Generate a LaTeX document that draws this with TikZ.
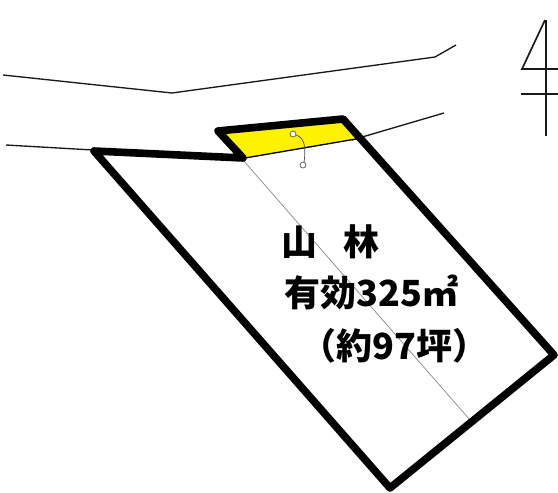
\documentclass[tikz,border=0pt]{standalone}
\usepackage{fontspec}
\newfontfamily\cjk{Noto Sans CJK JP}
\tikzset{
  lot/.style={line width=5.7pt, line join=round, line cap=round},
  road/.style={line width=1pt, black!90},
  axis/.style={line width=1.25pt, black!90},
  guide/.style={line width=0.55pt, black!45},
  handle/.style={circle, draw=black!60, fill=white, line width=0.6pt, inner sep=0pt, minimum size=4.5pt},
  label/.style={inner sep=0pt, anchor=base west, font=\cjk\bfseries\fontsize{27}{27}\selectfont}
}
\begin{document}
\begin{tikzpicture}[x=0.75pt, y=-0.75pt]
      \useasboundingbox (0, 0) rectangle (558, 493);

      % roads
      \draw[road] (3, 75) -- (172, 93) -- (435, 57) -- (456, 45);
      \draw[road] (6, 145) -- (93, 150);
      \draw[road] (352, 140) -- (444, 113);

      % north mark
      \draw[axis] (546, 20) -- (546, 136);
      \draw[axis] (545, 20) -- (522, 69) -- (558, 69);
      \draw[axis] (521, 94) -- (558, 94);

      % yellow strip
      \fill[yellow] (225, 134) -- (343, 122) -- (356, 139) -- (245, 158) -- cycle;
      \draw[line width=1pt] (245, 158) -- (356, 139);

      % centre line
      \draw[guide] (243, 160) -- (470, 420);

      % lot outline
      \draw[lot] (94, 151) -- (243, 158) -- (218, 131) -- (343, 119) -- (554, 355) -- (390, 488) -- cycle;

      % handles
      \node[handle] (top) at (293, 134) {};
      \node[handle] (bottom) at (303, 165) {};
      \draw[guide, black!70] (top) .. controls (305, 138) and (306, 148) .. (304, 162.5);

      \node[label] (forest) at (281, 255) {山\hspace{0.72em}林};
      \node[label] (area) at (284, 306) {有効325㎡};
      \node[label] (tsubo) at (300, 359) {（約97坪）};
\end{tikzpicture}
\end{document}
